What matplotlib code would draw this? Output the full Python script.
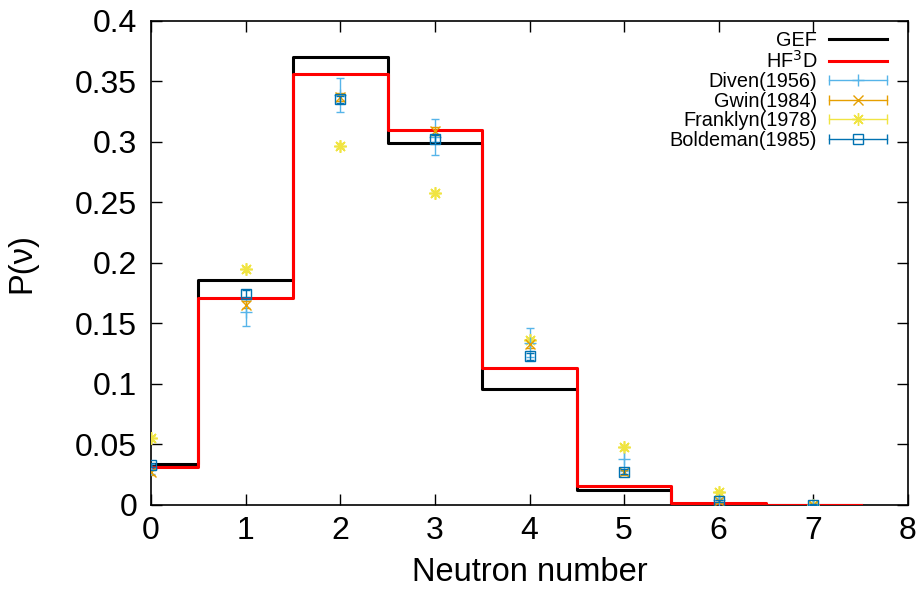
import matplotlib
matplotlib.use("Agg")
import matplotlib.pyplot as plt
from matplotlib.lines import Line2D
from matplotlib.legend_handler import HandlerBase

plt.rcParams['font.family'] = ['Liberation Sans', 'DejaVu Sans']

# neutron multiplicity
nu = [0, 1, 2, 3, 4, 5, 6, 7]
gef = [0.0336, 0.186, 0.370, 0.299, 0.096, 0.012, 0.001, 0.0]
hf3d = [0.0316, 0.171, 0.3556, 0.310, 0.113, 0.0157, 0.0015, 0.0002]

diven = [0.030, 0.159, 0.339, 0.304, 0.134, 0.038, 0.004, 0.0]
diven_err = [0.004, 0.011, 0.014, 0.015, 0.012, 0.010, 0.002, 0.002]
gwin = [0.027, 0.1655, 0.337, 0.309, 0.133, 0.027, 0.003, 0.0]
gwin_err = [0.002, 0.003, 0.003, 0.003, 0.003, 0.002, 0.001, 0.001]
franklyn = [0.055, 0.1947, 0.2967, 0.2577, 0.136, 0.0476, 0.0105, 0.0]
franklyn_err = [0.002, 0.002, 0.002, 0.002, 0.002, 0.002, 0.001, 0.0005]
boldeman = [0.033, 0.1746, 0.335, 0.3025, 0.1229, 0.0275, 0.0033, 0.0002]
boldeman_err = [0.002, 0.003, 0.003, 0.003, 0.003, 0.002, 0.001, 0.0005]

ASTER = (8, 2, 0)

fig = plt.figure(figsize=(9.24, 5.92), dpi=100)
ax = fig.add_axes([151/924, 1-505/592, (908-151)/924, (505-20.7)/592])

# step histograms, bins centred on integers, first bin cut at 0
def steps(vals):
    xs = [0]
    ys = [vals[0]]
    for i, v in enumerate(vals):
        xs += [i + 0.5]
        ys += [v]
        if i + 1 < len(vals):
            xs += [i + 0.5]
            ys += [vals[i+1]]
    return xs, ys

xg, yg = steps(gef)
xh, yh = steps(hf3d)
ax.plot(xg, yg, color='black', lw=2.2, zorder=3)
ax.plot(xh, yh, color='#ff0000', lw=2.2, zorder=4)

eb = dict(elinewidth=1, capsize=3, capthick=1, zorder=5)
ax.errorbar(nu, diven, yerr=diven_err, fmt='+', color='#56b4e9', ms=9, mew=1, **eb)
ax.errorbar(nu, gwin, yerr=gwin_err, fmt='x', color='#e69f00', ms=7, mew=1, **eb)
ax.errorbar(nu, franklyn, yerr=franklyn_err, fmt='none', color='#f0e442', **eb)
ax.plot(nu, franklyn, ls='none', marker=ASTER, color='#f0e442', ms=9, mew=1.2, zorder=5)
ax.errorbar(nu, boldeman, yerr=boldeman_err, fmt='s', color='#0072b2', ms=7, mew=1,
            mfc='none', elinewidth=1, capsize=3, capthick=1, zorder=6)

ax.set_xlim(0, 8)
ax.set_ylim(0, 0.4)
ax.set_xticks(range(9))
ax.set_yticks([0, 0.05, 0.1, 0.15, 0.2, 0.25, 0.3, 0.35, 0.4])
ax.set_yticklabels(['0', '0.05', '0.1', '0.15', '0.2', '0.25', '0.3', '0.35', '0.4'])
ax.tick_params(direction='in', length=8, width=1, top=True, right=True,
               labelsize=23)
ax.tick_params(axis='y', pad=10)
ax.tick_params(axis='x', pad=8)
for s in ax.spines.values():
    s.set_linewidth(1.2)
ax.set_xlabel('Neutron number', fontsize=23.5, labelpad=8)
ax.set_ylabel('P(ν)', fontsize=23.5, labelpad=27)


# gnuplot style key entry: line with end caps and point in the middle
class ErrKey(HandlerBase):
    def create_artists(self, legend, orig, xdescent, ydescent, width, height,
                       fontsize, trans):
        y = height / 2 - ydescent
        x0, x1 = -xdescent, width - xdescent
        c = orig.get_color()
        arts = [Line2D([x0, x1], [y, y], color=c, lw=1),
                Line2D([x0, x1], [y, y], ls='none', marker='|', ms=7, mew=1, color=c),
                Line2D([(x0 + x1) / 2], [y], ls='none', marker=orig.get_marker(),
                       ms=orig.get_markersize(), mew=1, color=c,
                       mfc=orig.get_markerfacecolor())]
        for a in arts:
            a.set_transform(trans)
        return arts


h_gef = Line2D([], [], color='black', lw=2.2)
h_hf = Line2D([], [], color='#ff0000', lw=2.2)
h_div = Line2D([], [], color='#56b4e9', marker='+', ms=9)
h_gw = Line2D([], [], color='#e69f00', marker='x', ms=7)
h_fr = Line2D([], [], color='#f0e442', marker=ASTER, ms=9)
h_bo = Line2D([], [], color='#0072b2', marker='s', ms=7, mfc='none')
hm = {h: ErrKey() for h in [h_div, h_gw, h_fr, h_bo]}
leg = ax.legend([h_gef, h_hf, h_div, h_gw, h_fr, h_bo],
                ['GEF', 'HF$^3$D', 'Diven(1956)', 'Gwin(1984)', 'Franklyn(1978)',
                 'Boldeman(1985)'],
                handler_map=hm, loc='upper right', bbox_to_anchor=(0.985, 1.0),
                markerfirst=False, frameon=False,
                fontsize=14.3, handlelength=2.9, labelspacing=0.02,
                borderaxespad=0.1, handletextpad=0.6)

plt.savefig('out.png', dpi=100)
